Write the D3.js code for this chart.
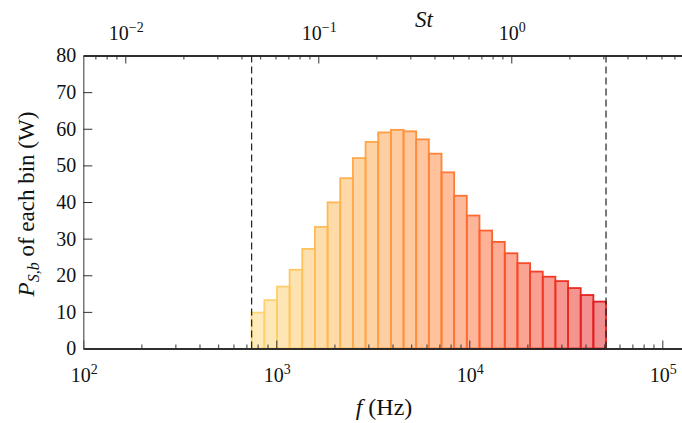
<!DOCTYPE html>
<html>
<head>
<meta charset="utf-8">
<script src="https://cdn.jsdelivr.net/npm/d3@7"></script>
<style>
  body { margin: 0; background: #fff; }
</style>
</head>
<body>
<div id="d3-container"></div>
<script>
// bin edges (Hz) and power per bin (W)
const binEdges = [745, 867, 1008, 1172, 1363, 1585, 1844, 2144, 2494, 2900,
  3373, 3923, 4562, 5306, 6171, 7177, 8346, 9707, 11289, 13129,
  15269, 17758, 20652, 24018, 27933, 32486, 37781, 43939, 51100];
const binPower = [9.8, 13.2, 16.9, 21.5, 27.2, 33.2, 39.9, 46.5, 52.0, 56.4,
  59.0, 59.7, 59.3, 57.1, 53.2, 48.1, 41.7, 36.3, 32.2, 29.1,
  26.0, 23.3, 21.0, 19.6, 18.4, 16.5, 14.6, 12.8];
const cutoffs = [745, 51100];
const fTickExps = [2, 3, 4, 5];
const stTickExps = [-2, -1, 0];
const yTicks = [0, 10, 20, 30, 40, 50, 60, 70, 80];
const stPerHz = 6.06e-5;

const FONT = '"Liberation Serif", "Times New Roman", Times, serif';
const width = 682, height = 423;
const margin = { top: 55.5, bottom: 74.5, left: 83.3 };

const svg = d3.select('#d3-container')
  .append('svg')
  .attr('width', width)
  .attr('height', height)
  .style('font-family', FONT);

const x = d3.scaleLog()
  .domain([100, Math.pow(10, 2 + (684 - margin.left) / 193)])
  .range([margin.left, 684]);

const st = d3.scaleLog()
  .domain(x.domain().map(d => d * stPerHz))
  .range(x.range());

const y = d3.scaleLinear()
  .domain([0, 80])
  .range([height - margin.bottom, margin.top]);

const color = i => d3.interpolateYlOrRd(0.25 + 0.5 * i / (binPower.length - 1));

// bars
svg.append('g')
  .selectAll('rect')
  .data(binPower)
  .join('rect')
    .attr('x', (d, i) => x(binEdges[i]))
    .attr('width', (d, i) => x(binEdges[i + 1]) - x(binEdges[i]))
    .attr('y', d => y(d))
    .attr('height', d => y(0) - y(d))
    .attr('fill', (d, i) => color(i))
    .attr('fill-opacity', 0.5)
    .attr('stroke', (d, i) => color(i))
    .attr('stroke-width', 1.8);

// cutoff lines
svg.append('g')
  .selectAll('line')
  .data(cutoffs)
  .join('line')
    .attr('x1', d => x(d)).attr('x2', d => x(d))
    .attr('y1', y(80)).attr('y2', y(0))
    .attr('stroke', '#222')
    .attr('stroke-width', 1.2)
    .attr('stroke-dasharray', '7,4');

const minorF = x.ticks().filter(d => Math.abs(Math.log10(d) % 1) > 1e-6);
const majorF = fTickExps.map(e => Math.pow(10, e));
const minorSt = st.ticks().filter(d => Math.abs(Math.log10(d) - Math.round(Math.log10(d))) > 1e-6);
const majorSt = stTickExps.map(e => Math.pow(10, e));

function styleAxis(g) {
  g.selectAll('.domain').attr('stroke', '#222').attr('stroke-width', 1.3);
  g.selectAll('.tick line').attr('stroke', '#333').attr('stroke-width', 1);
  g.selectAll('.tick text').remove();
}

// bottom axis
svg.append('g')
  .attr('transform', `translate(0,${y(0)})`)
  .call(d3.axisBottom(x).tickValues(minorF).tickSize(-4).tickSizeOuter(0))
  .call(styleAxis);
svg.append('g')
  .attr('transform', `translate(0,${y(0)})`)
  .call(d3.axisBottom(x).tickValues(majorF).tickSize(-8).tickSizeOuter(0))
  .call(styleAxis);

// top axis (Strouhal)
svg.append('g')
  .attr('transform', `translate(0,${y(80)})`)
  .call(d3.axisTop(st).tickValues(minorSt).tickSize(-4).tickSizeOuter(0))
  .call(styleAxis);
svg.append('g')
  .attr('transform', `translate(0,${y(80)})`)
  .call(d3.axisTop(st).tickValues(majorSt).tickSize(-8).tickSizeOuter(0))
  .call(styleAxis);

// left axis
const yAxisG = svg.append('g')
  .attr('transform', `translate(${margin.left},0)`)
  .call(d3.axisLeft(y).tickValues(yTicks).tickSize(-9).tickSizeOuter(0).tickPadding(7));
yAxisG.selectAll('.domain').attr('stroke', '#555').attr('stroke-width', 1.2);
yAxisG.selectAll('.tick line').attr('stroke', '#333');
yAxisG.selectAll('.tick text')
  .style('font-family', FONT)
  .style('font-size', '20px')
  .attr('fill', '#111');

function powerLabel(g, px, py, exp) {
  const t = g.append('text')
    .attr('x', px)
    .attr('y', py)
    .attr('text-anchor', 'middle')
    .attr('fill', '#111')
    .style('font-family', FONT)
    .style('font-size', '20px');
  t.append('tspan').text('10');
  t.append('tspan')
    .attr('dy', -8)
    .style('font-size', '14px')
    .text(exp < 0 ? '\u2212' + (-exp) : String(exp));
}

const labels = svg.append('g');
fTickExps.forEach(e => powerLabel(labels, x(Math.pow(10, e)) + 1, 382, e));
stTickExps.forEach(e => powerLabel(labels, st(Math.pow(10, e)) + 1, 40, e));

// axis titles
const xt = svg.append('text')
  .attr('x', 384)
  .attr('y', 415)
  .attr('text-anchor', 'middle')
  .attr('fill', '#111')
  .style('font-family', FONT)
  .style('font-size', '24px');
xt.append('tspan').style('font-style', 'italic').text('f');
xt.append('tspan').text(' (Hz)');

svg.append('text')
  .attr('x', 424)
  .attr('y', 27)
  .attr('text-anchor', 'middle')
  .attr('fill', '#111')
  .style('font-family', FONT)
  .style('font-size', '23px')
  .style('font-style', 'italic')
  .text('St');

const yt = svg.append('text')
  .attr('transform', 'translate(34,204) rotate(-90)')
  .attr('text-anchor', 'middle')
  .attr('fill', '#111')
  .style('font-family', FONT)
  .style('font-size', '23px');
yt.append('tspan').style('font-style', 'italic').text('P');
yt.append('tspan').style('font-style', 'italic').style('font-size', '16px').attr('dy', 5).text('S,b');
yt.append('tspan').attr('dy', -5).text(' of each bin (W)');
</script>
</body>
</html>
